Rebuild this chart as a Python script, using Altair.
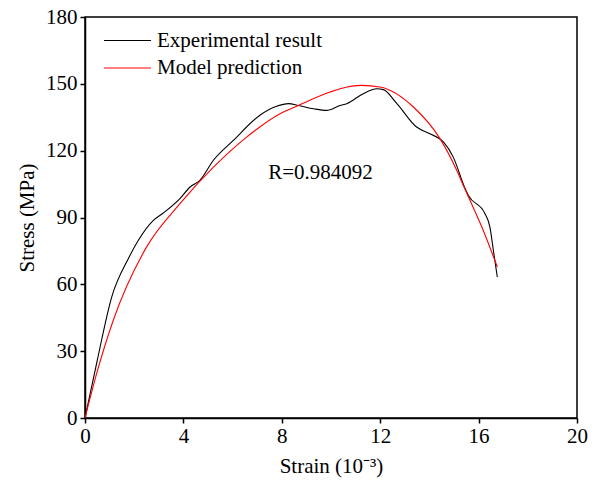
import altair as alt
import pandas as pd

exp_strain = [0.0, 0.5, 1.085, 1.76, 2.17, 2.78, 3.18, 3.86, 4.27, 4.67, 5.22, 6.03, 7.11, 7.79, 8.27,
              8.67, 9.3, 9.82, 10.37, 10.64, 11.31, 11.86, 12.13, 12.68, 13.48, 14.02, 14.57, 14.97,
              15.45, 15.58, 16.26, 16.46, 16.6, 16.76]
exp_stress = [0.0, 26.0, 54.3, 71.5, 79.8, 88.7, 92.0, 98.5, 103.7, 106.7, 115.7, 124.6, 135.9, 139.9, 141.1,
              140.3, 138.8, 138.1, 140.3, 141.1, 145.6, 147.8, 147.4, 141.1, 130.6, 127.6, 123.9, 117.1,
              103.0, 100.0, 91.7, 85.7, 75.3, 63.3]

mod_strain = [0.0, 0.5, 1.15, 2.5, 3.86, 5.22, 6.57, 7.93, 8.67, 9.96, 10.37, 11.25, 11.99, 13.35,
              14.43, 15.11, 15.38, 15.65, 16.19, 16.76]
mod_stress = [0.0, 21.0, 43.9, 76.7, 96.2, 112.6, 126.1, 136.6, 140.3, 146.3, 147.8, 149.3, 148.6, 139.6,
              125.4, 111.2, 104.4, 97.7, 84.2, 67.8]

series_names = ["Experimental result", "Model prediction"]
series_colors = ["#000000", "#ff0000"]

r_text = ["R=0.984092"]
r_pos_x = [7.45]
r_pos_y = [110.0]

x_ticks = [0, 4, 8, 12, 16, 20]
y_ticks = [0, 30, 60, 90, 120, 150, 180]

rows = []
for i, (s, v) in enumerate(zip(exp_strain, exp_stress)):
    rows.append({"strain": s, "stress": v, "series": series_names[0], "order": i})
for i, (s, v) in enumerate(zip(mod_strain, mod_stress)):
    rows.append({"strain": s, "stress": v, "series": series_names[1], "order": i})
df = pd.DataFrame(rows)

FONT = "Liberation Serif"

lines = alt.Chart(df).mark_line(strokeWidth=1.1, interpolate="monotone", clip=True).encode(
    x=alt.X("strain:Q", scale=alt.Scale(domain=[0, 20], nice=False),
            axis=alt.Axis(values=x_ticks, title="Strain (10⁻³)", grid=False, tickSize=5,
                          labelPadding=2, titlePadding=9, labelFlush=False)),
    y=alt.Y("stress:Q", scale=alt.Scale(domain=[0, 180], nice=False),
            axis=alt.Axis(values=y_ticks, title="Stress (MPa)", grid=False, tickSize=5,
                          labelPadding=3, titlePadding=8, labelFlush=False)),
    color=alt.Color("series:N", scale=alt.Scale(domain=series_names, range=series_colors),
                    legend=alt.Legend(title=None, orient="none", legendX=30, legendY=11,
                                      symbolType="M-2,0H2", symbolSize=552, symbolStrokeWidth=1.1,
                                      labelFont=FONT, labelFontSize=21, labelColor="black",
                                      labelLimit=0, labelOffset=17, rowPadding=4.5)),
    order="order:Q",
)

ann = alt.Chart(pd.DataFrame({"t": r_text, "x": r_pos_x, "y": r_pos_y})).mark_text(
    align="left", baseline="middle", font=FONT, fontSize=21, color="black"
).encode(x="x:Q", y="y:Q", text="t:N")

chart = alt.layer(lines, ann).properties(
    width=492, height=401,
    background="white",
    autosize=alt.AutoSizeParams(type="none"),
    padding={"left": 85, "top": 17, "right": 26, "bottom": 72},
).configure_view(stroke="black", strokeWidth=1.5).configure_axis(
    domainColor="black", domainWidth=1.5, tickColor="black", tickWidth=1.5,
    labelFont=FONT, labelFontSize=21, labelColor="black",
    titleFont=FONT, titleFontSize=21, titleColor="black", titleFontWeight="normal",
)

chart.save("out.html", embed_options={"renderer": "svg", "actions": False})
